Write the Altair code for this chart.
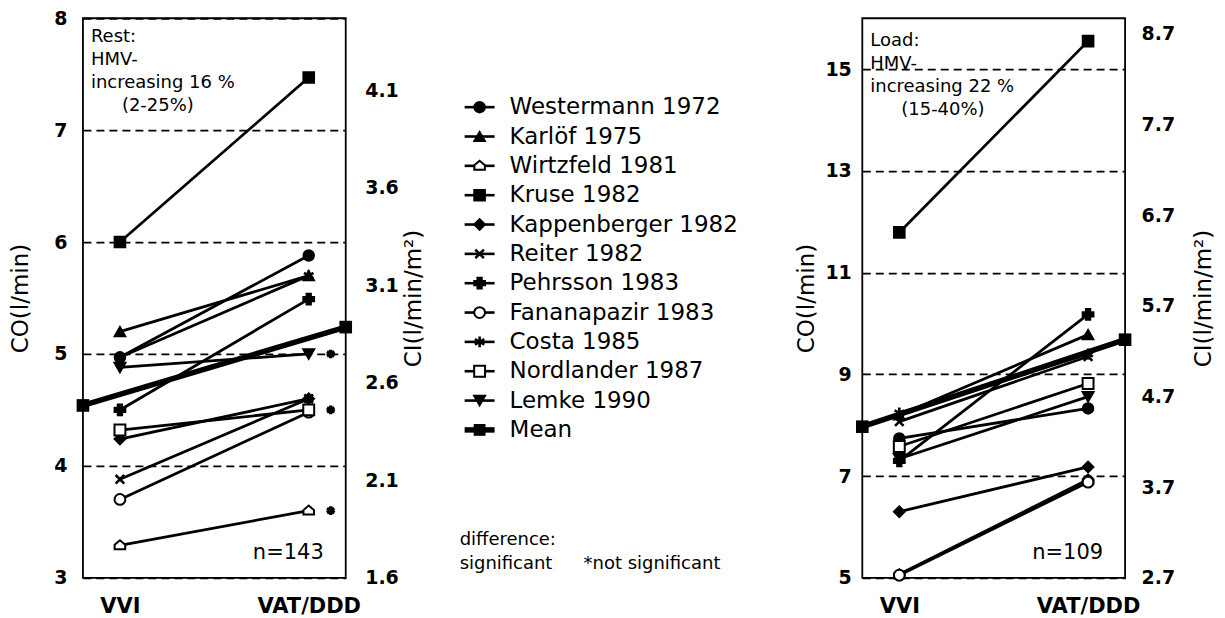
import altair as alt
import pandas as pd

# ---------------- data ----------------
studies = ["Westermann 1972", "Karlöf 1975", "Wirtzfeld 1981", "Kruse 1982",
           "Kappenberger 1982", "Reiter 1982", "Pehrsson 1983", "Fananapazir 1983",
           "Costa 1985", "Nordlander 1987", "Lemke 1990"]
conditions = ["VVI", "VAT/DDD"]

rest_vvi = [4.97, 5.20, 3.29, 6.00, 4.24, 3.88, 4.50, 3.70, 4.97, 4.32, 4.88]
rest_vat = [5.88, 5.70, 3.60, 7.47, 4.60, 4.60, 5.49, 4.48, 5.70, 4.50, 5.00]
rest_mean = [4.54, 5.24]
rest_not_significant = ["Wirtzfeld 1981", "Nordlander 1987", "Lemke 1990"]

load_vvi = [7.74, 8.20, 5.07, 11.79, 6.30, 8.07, 7.30, 5.05, 8.24, 7.58, 7.34]
load_vat = [8.33, 9.78, 6.93, 15.55, 7.18, 9.35, 10.18, 6.88, 9.40, 8.82, 8.56]
load_mean = [7.97, 9.68]
load_not_significant = []

rest_co_ticks = [3, 4, 5, 6, 7, 8]
rest_ci_ticks = [1.6, 2.1, 2.6, 3.1, 3.6, 4.1]
load_co_ticks = [5, 7, 9, 11, 13, 15]
load_ci_ticks = [2.7, 3.7, 4.7, 5.7, 6.7, 7.7, 8.7]
rest_co_domain = [3, 8]
rest_ci_domain = [1.6, 4.47]
load_co_domain = [5, 16]
load_ci_domain = [2.7, 8.87]

rest_note = ["Rest:", "HMV-", "increasing 16 %", "(2-25%)"]
load_note = ["Load:", "HMV-", "increasing 22 %", "(15-40%)"]
rest_n = "n=143"
load_n = "n=109"

# ---------------- styles ----------------
FONT = "DejaVu Sans"
ASTER = "M0,-1L0,1M-0.87,-0.5L0.87,0.5M-0.87,0.5L0.87,-0.5"
XSHAPE = "M-0.8,-0.8L0.8,0.8M-0.8,0.8L0.8,-0.8"
HOUSE = "M-1,0.75L-1,-0.1L0,-0.95L1,-0.1L1,0.75Z"

marker_shape = {
    "Westermann 1972": "circle", "Karlöf 1975": "triangle-up", "Wirtzfeld 1981": HOUSE,
    "Kruse 1982": "square", "Kappenberger 1982": "diamond", "Reiter 1982": XSHAPE,
    "Pehrsson 1983": "cross", "Fananapazir 1983": "circle", "Costa 1985": ASTER,
    "Nordlander 1987": "square", "Lemke 1990": "triangle-down",
}
marker_kind = {
    "Westermann 1972": "filled", "Karlöf 1975": "filled", "Wirtzfeld 1981": "open",
    "Kruse 1982": "filled", "Kappenberger 1982": "filled", "Reiter 1982": "stroke",
    "Pehrsson 1983": "filled", "Fananapazir 1983": "open", "Costa 1985": "stroke",
    "Nordlander 1987": "open", "Lemke 1990": "filled",
}
marker_size = {
    "Westermann 1972": 110, "Karlöf 1975": 120, "Wirtzfeld 1981": 100,
    "Kruse 1982": 150, "Kappenberger 1982": 110, "Reiter 1982": 120,
    "Pehrsson 1983": 130, "Fananapazir 1983": 100, "Costa 1985": 130,
    "Nordlander 1987": 100, "Lemke 1990": 120,
}
shape_scale = alt.Scale(domain=studies, range=[marker_shape[s] for s in studies])
size_scale = alt.Scale(domain=studies, range=[marker_size[s] for s in studies])


def marker_layers(data, x, y):
    shp = alt.Shape("study:N", scale=shape_scale, legend=None)
    siz = alt.Size("study:N", scale=size_scale, legend=None)
    filled = alt.Chart(data).transform_filter(alt.datum.kind == "filled").mark_point(
        filled=True, fill="black", stroke="black", opacity=1
    ).encode(x=x, y=y, shape=shp, size=siz)
    opened = alt.Chart(data).transform_filter(alt.datum.kind == "open").mark_point(
        filled=False, fill="white", fillOpacity=1, stroke="black", strokeWidth=2,
        opacity=1
    ).encode(x=x, y=y, shape=shp, size=siz)
    stroked = alt.Chart(data).transform_filter(alt.datum.kind == "stroke").mark_point(
        filled=False, stroke="black", strokeWidth=2.6, opacity=1
    ).encode(x=x, y=y, shape=shp, size=siz)
    return [filled, opened, stroked]


def panel(vvi, vat, mean, co_dom, co_ticks, ci_dom, ci_ticks, note, ntext, nonsig,
          left_title_pad, left_label_pad, right_label_pad, right_title_pad, note_y):
    rows = []
    for s, a, b in zip(studies, vvi, vat):
        for c, v in zip(conditions, [a, b]):
            if v is not None:
                rows.append({"study": s, "cond": c, "co": v, "kind": marker_kind[s]})
    df = pd.DataFrame(rows)

    x = alt.X("cond:N", sort=conditions,
              scale=alt.Scale(domain=conditions, padding=0.196),
              axis=alt.Axis(title=None, labelAngle=0, ticks=False, domain=False,
                            labelPadding=18, labelFont=FONT, labelFontSize=21,
                            labelFontWeight="bold", labelColor="black"))
    y = alt.Y("co:Q", scale=alt.Scale(domain=co_dom, nice=False, zero=False),
              axis=alt.Axis(values=co_ticks, format="d", title="CO(l/min)",
                            grid=True, gridDash=[8, 5], gridColor="black",
                            gridWidth=1.8, gridOpacity=1, ticks=False, domain=False,
                            labelPadding=left_label_pad, labelFont=FONT,
                            labelFontSize=19, labelFontWeight="bold",
                            labelColor="black", titleFont=FONT, titleFontSize=23,
                            titleFontWeight="normal", titleColor="black",
                            titlePadding=left_title_pad))

    lines = alt.Chart(df).mark_line(color="black", strokeWidth=2.8).encode(
        x=x, y=y, detail="study:N")
    layers = [lines] + marker_layers(df, x, y)

    ns = df[(df["cond"] == "VAT/DDD") & (df["study"].isin(nonsig))]
    if len(ns):
        layers.append(alt.Chart(ns).mark_point(
            shape=ASTER, filled=False, stroke="black", strokeWidth=3.4, size=75,
            opacity=1, xOffset=22).encode(x=x, y=y))

    layers.append(alt.Chart(pd.DataFrame({"t": ["\n".join(note[:3])]})).mark_text(
        align="left", baseline="top", lineBreak="\n", lineHeight=23, font=FONT,
        fontSize=18, color="black").encode(text="t:N", x=alt.value(8),
                                           y=alt.value(note_y)))
    layers.append(alt.Chart(pd.DataFrame({"t": [note[3]]})).mark_text(
        align="left", baseline="top", font=FONT, fontSize=18, color="black",
        dx=31, dy=69).encode(text="t:N", x=alt.value(8), y=alt.value(note_y)))
    layers.append(alt.Chart(pd.DataFrame({"t": [ntext]})).mark_text(
        align="right", baseline="alphabetic", font=FONT, fontSize=21,
        color="black").encode(text="t:N", x=alt.value(241), y=alt.value(541)))

    base = alt.layer(*layers)

    mdf = pd.DataFrame({"cond": conditions, "co": mean})
    xm = alt.X("cond:N", sort=conditions, scale=alt.Scale(domain=conditions, padding=0),
               axis=None)
    ym = alt.Y("co:Q", scale=alt.Scale(domain=co_dom, nice=False, zero=False), axis=None)
    mean_layer = alt.layer(
        alt.Chart(mdf).mark_line(color="black", strokeWidth=5.5).encode(x=xm, y=ym),
        alt.Chart(mdf).mark_point(shape="square", filled=True, fill="black",
                                  size=160, opacity=1).encode(x=xm, y=ym),
    )

    cidf = pd.DataFrame({"ci": ci_ticks})
    ci_layer = alt.Chart(cidf).mark_point(opacity=0).encode(
        y=alt.Y("ci:Q", scale=alt.Scale(domain=ci_dom, nice=False, zero=False),
                axis=alt.Axis(orient="right", values=ci_ticks, format=".1f",
                              title="CI(l/min/m²)", ticks=False, domain=False,
                              grid=False, labelPadding=right_label_pad,
                              labelFont=FONT, labelFontSize=19,
                              labelFontWeight="bold", labelColor="black",
                              titleFont=FONT, titleFontSize=23,
                              titleFontWeight="normal", titleColor="black",
                              titleAngle=270, titleBaseline="top",
                              titlePadding=right_title_pad)))

    return alt.layer(base, mean_layer, ci_layer).resolve_scale(
        x="independent", y="independent").properties(width=263, height=560)


left = panel(rest_vvi, rest_vat, rest_mean, rest_co_domain, rest_co_ticks,
             rest_ci_domain, rest_ci_ticks, rest_note, rest_n, rest_not_significant,
             21, 16, 19, 4, 10)
right = panel(load_vvi, load_vat, load_mean, load_co_domain, load_co_ticks,
              load_ci_domain, load_ci_ticks, load_note, load_n, load_not_significant,
              6, 11, 16, 18, 14)

# ---------------- legend panel ----------------
legend_names = studies + ["Mean"]
ldf = pd.DataFrame({
    "study": legend_names,
    "idx": list(range(len(legend_names))),
    "kind": [marker_kind.get(s, "mean") for s in legend_names],
})
ly = alt.Y("idx:Q", scale=alt.Scale(domain=[0, len(legend_names) - 1], range=[89, 412]),
           axis=None)
lx = alt.value(56)
leg_rules = alt.Chart(ldf).mark_rule(color="black").encode(
    x=alt.value(41), x2=alt.value(71), y=ly,
    strokeWidth=alt.condition(alt.datum.study == "Mean", alt.value(5.5), alt.value(2.6)))
leg_marks = marker_layers(ldf, lx, ly)
leg_mean = alt.Chart(ldf).transform_filter(alt.datum.kind == "mean").mark_point(
    shape="square", filled=True, fill="black", size=140, opacity=1).encode(x=lx, y=ly)
leg_text = alt.Chart(ldf).mark_text(align="left", baseline="middle", font=FONT,
                                     fontSize=23, color="black").encode(
    text="study:N", x=alt.value(86), y=ly)
foot1 = alt.Chart(pd.DataFrame({"t": ["difference:\nsignificant"]})).mark_text(
    align="left", baseline="alphabetic", lineBreak="\n", lineHeight=24, font=FONT,
    fontSize=18, color="black").encode(text="t:N", x=alt.value(36), y=alt.value(527))
foot2 = alt.Chart(pd.DataFrame({"t": ["*not significant"]})).mark_text(
    align="left", baseline="alphabetic", font=FONT, fontSize=18,
    color="black").encode(text="t:N", x=alt.value(160), y=alt.value(551))

legend_panel = alt.layer(leg_rules, *leg_marks, leg_mean, leg_text, foot1, foot2).properties(
    width=361, height=560, view=alt.ViewBackground(stroke="transparent"))

chart = alt.hconcat(left, legend_panel, right, spacing=78, bounds="flush").properties(
    padding={"left": 0, "top": 0, "right": 0, "bottom": 0}
).configure(font=FONT).configure_view(stroke="black", strokeWidth=1.8)

chart.save("out.html", embed_options={"renderer": "svg", "actions": False})
